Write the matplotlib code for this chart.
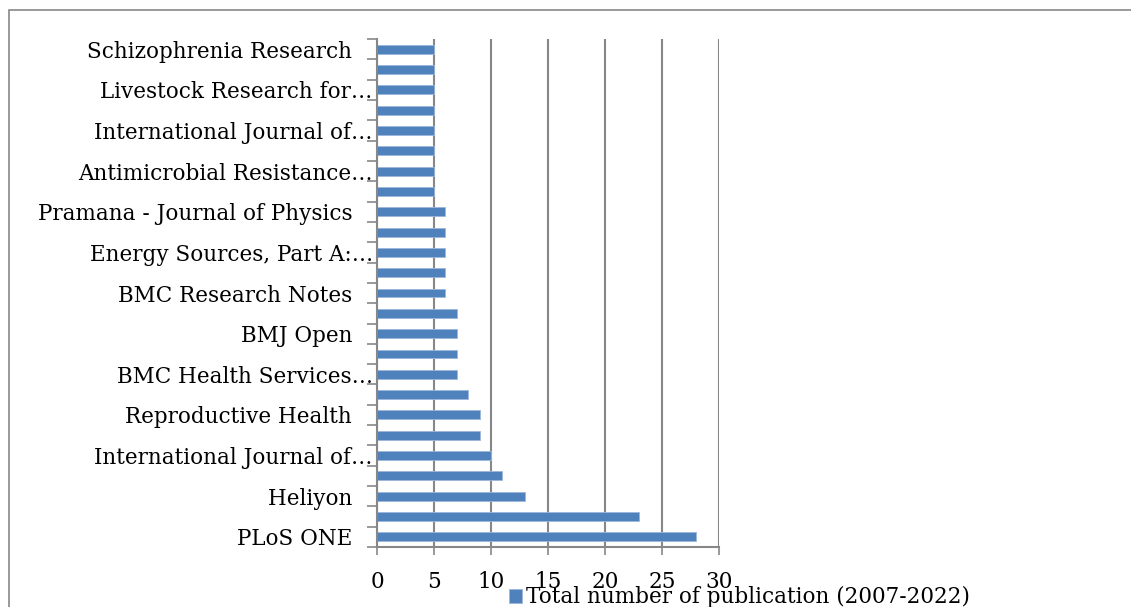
import matplotlib
matplotlib.use("Agg")
import matplotlib.pyplot as plt
from matplotlib.patches import Rectangle

# journals, bottom to top (only every other one shows a label)
journals = [
    "PLoS ONE", "", "Heliyon", "", "International Journal of\u2026", "",
    "Reproductive Health", "", "BMC Health Services\u2026", "", "BMJ Open", "",
    "BMC Research Notes", "", "Energy Sources, Part A:\u2026", "",
    "Pramana - Journal of Physics", "", "Antimicrobial Resistance\u2026", "",
    "International Journal of\u2026", "", "Livestock Research for\u2026", "",
    "Schizophrenia Research",
]
publications = [28, 23, 13, 11, 10, 9, 9, 8, 7, 7, 7, 7, 6, 6, 6, 6, 6,
                5, 5, 5, 5, 5, 5, 5, 5]
xticks = [0, 5, 10, 15, 20, 25, 30]
series_name = "Total number of publication (2007-2022)"

grey = "#878787"
blue = "#4F81BD"
font = "DejaVu Serif"

fig = plt.figure(figsize=(11.31, 6.07), dpi=100)
ax = fig.add_axes([0.3333, 0.0988, 0.3024, 0.8369])

ypos = list(range(len(publications)))
ax.barh(ypos, publications, height=0.44, color=blue, edgecolor="#9db7db",
        linewidth=0.6, label=series_name, zorder=3)

ax.set_xlim(0, 30)
ax.set_ylim(-0.5, len(publications) - 0.5)
ax.set_xticks(xticks)
ax.set_xticklabels([str(t) for t in xticks], fontsize=15.5, family=font)

# labels with trailing padding where excel kept a trailing space
labels = []
for j in journals:
    if j and not j.endswith("\u2026"):
        labels.append(j + "   ")
    else:
        labels.append(j)
ax.set_yticks(ypos)
ax.set_yticklabels(labels, fontsize=15.5, family=font)
ax.set_yticks([y - 0.5 for y in range(len(publications) + 1)], minor=True)
ax.tick_params(axis="y", which="major", length=0, pad=3)
ax.tick_params(axis="y", which="minor", length=7, width=1.2, color=grey)
ax.tick_params(axis="x", length=6, width=1.2, color=grey, pad=11)

ax.grid(axis="x", color=grey, linewidth=1.5, zorder=0)
for s in ["top", "right"]:
    ax.spines[s].set_visible(False)
for s in ["left", "bottom"]:
    ax.spines[s].set_color(grey)
    ax.spines[s].set_linewidth(1.5)
    ax.spines[s].set_zorder(4)

fig.legend(loc="center", bbox_to_anchor=(0.654, 0.016), frameon=False,
           prop={"family": font, "size": 15.5}, handlelength=0.6,
           handleheight=0.6, handletextpad=0.2)

# outer chart frame
fig.patches.append(Rectangle((9 / 1131, -0.1), 1.2, 1 - 10 / 607 + 0.1,
                             transform=fig.transFigure, fill=False,
                             edgecolor=grey, linewidth=1.2))

fig.savefig("out.png", dpi=100)
